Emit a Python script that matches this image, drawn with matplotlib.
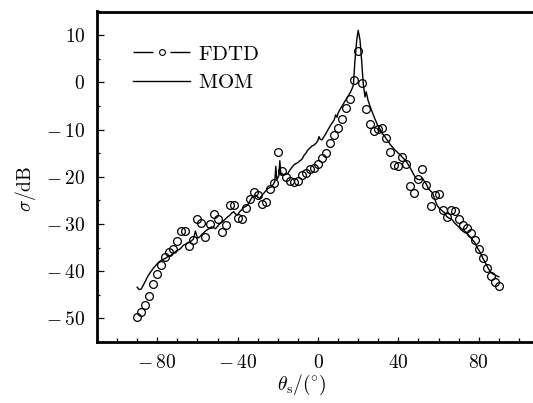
import matplotlib

matplotlib.use("Agg")

import matplotlib.pyplot as plt
from matplotlib.lines import Line2D
from matplotlib.ticker import FixedLocator, FuncFormatter, MultipleLocator

plt.rcParams["mathtext.fontset"] = "cm"
plt.rcParams["font.family"] = ["DejaVu Serif"]

# FDTD samples (theta_s in degrees, sigma in dB)
fdtd_theta = [
    -90, -88, -86, -84, -82, -80, -78, -76, -74, -72, -70, -68, -66, -64, -62, -60,
    -58, -56, -54, -52, -50, -48, -46, -44, -42, -40, -38, -36, -34, -32, -30, -28,
    -26, -24, -22, -20, -18, -16, -14, -12, -10, -8, -6, -4, -2, 0, 2, 4, 6, 8, 10,
    12, 14, 16, 18, 20, 22, 24, 26, 28, 30, 32, 34, 36, 38, 40, 42, 44, 46, 48, 50,
    52, 54, 56, 58, 60, 62, 64, 66, 68, 70, 72, 74, 76, 78, 80, 82, 84, 86, 88, 90,
]
fdtd_sigma = [
    -49.7, -48.7, -47.2, -45.2, -42.8, -40.6, -38.7, -36.9, -35.9, -35.4, -33.6,
    -31.5, -31.5, -34.6, -33.4, -29.0, -29.7, -32.8, -30.0, -27.9, -29.0, -31.8,
    -30.3, -26.0, -26.0, -28.8, -29.0, -26.6, -24.7, -23.3, -23.9, -25.8, -25.3,
    -22.5, -21.4, -14.8, -18.7, -20.0, -20.8, -21.2, -20.9, -19.7, -19.3, -18.4,
    -18.1, -17.2, -16.1, -15.0, -12.8, -11.2, -9.7, -7.7, -5.5, -3.6, 0.4, 6.7,
    -0.2, -5.7, -8.8, -10.3, -9.8, -9.7, -11.7, -14.8, -17.5, -17.8, -15.9, -17.2,
    -21.9, -23.5, -20.5, -18.4, -21.8, -26.2, -23.8, -23.7, -27.1, -28.5, -27.1,
    -27.3, -29.0, -30.2, -30.9, -31.9, -33.4, -35.3, -37.3, -39.3, -41.0, -42.2,
    -43.2,
]

# MOM curve
mom_theta = [
    -90, -89, -88, -87, -86, -85, -84, -83, -82, -81, -80, -79, -78, -77, -76, -75,
    -74, -73, -72, -71, -70, -69, -68, -67, -66, -65, -64, -63, -62, -61, -60, -59,
    -58, -57, -56, -55, -54, -53, -52, -51, -50, -49, -48, -47, -46, -45, -44, -43,
    -42, -41, -40, -39, -38, -37, -36, -35, -34, -33, -32, -31, -30, -29, -28, -27,
    -26, -25, -24, -23, -22, -21.5, -21, -20.5, -19.5, -19, -18.5, -18, -17, -16,
    -15, -14, -13, -12, -11, -10, -9, -8, -7, -6, -5, -4, -3, -2, -1, 0, 0.5, 1, 2,
    3, 4, 5, 6, 7, 8, 8.8, 9.5, 10, 11, 12, 13, 14, 15, 16, 17, 17.6, 18.4, 19.3,
    20, 20.9, 21.7, 22.5, 23.4, 24, 24.9, 26, 27, 28, 29, 30, 31, 32, 33, 34, 35,
    36, 37, 38, 39, 40, 41, 42, 43, 44, 45, 46, 47, 48, 49, 50, 51, 52, 53, 54, 55,
    56, 57, 58, 59, 60, 61, 62, 63, 64, 65, 66, 67, 68, 69, 70, 71, 72, 73, 74, 75,
    76, 77, 78, 79, 80, 81, 82, 83, 84, 85, 86, 87, 88, 89, 90,
]
mom_sigma = [
    -43.4, -43.9, -43.8, -43.0, -42.2, -41.3, -40.6, -40.0, -39.4, -38.9, -38.4,
    -38.0, -37.7, -37.5, -37.3, -37.0, -36.8, -36.6, -36.2, -35.9, -35.6, -35.4,
    -35.0, -34.5, -34.3, -34.0, -33.8, -33.6, -33.2, -31.5, -33.0, -32.8, -32.3,
    -31.9, -31.5, -31.2, -30.9, -30.6, -30.8, -31.0, -30.5, -30.0, -29.7, -29.3,
    -28.9, -28.5, -28.2, -27.7, -27.4, -27.9, -28.1, -27.4, -27.0, -26.5, -26.3,
    -26.0, -25.2, -24.5, -24.2, -23.9, -24.3, -24.6, -24.0, -23.5, -23.0, -22.5,
    -22.3, -22.1, -21.4, -21.0, -17.8, -20.6, -19.8, -16.6, -19.5, -19.3, -19.6,
    -19.5, -19.3, -18.6, -18.0, -17.5, -17.2, -17.0, -16.6, -16.3, -15.5, -15.0,
    -14.3, -13.9, -13.5, -13.3, -12.9, -12.3, -11.5, -12.0, -12.2, -11.5, -10.8,
    -10.0, -9.3, -8.6, -8.0, -6.9, -7.4, -6.5, -5.7, -5.0, -4.3, -3.6, -2.9, -2.2,
    -1.3, -0.6, 4.7, 9.0, 11.0, 9.0, 4.7, -0.2, -3.1, -2.0, -3.8, -5.2, -6.3, -7.4,
    -8.4, -9.4, -10.0, -10.9, -11.3, -12.0, -12.5, -13.2, -13.7, -14.2, -14.6,
    -15.0, -15.4, -15.9, -16.3, -16.8, -17.5, -18.2, -19.0, -19.8, -20.4, -20.6,
    -20.6, -20.3, -21.0, -21.6, -22.6, -23.0, -23.4, -24.6, -25.8, -26.5, -26.9,
    -27.3, -27.6, -28.4, -28.7, -28.9, -29.2, -29.8, -30.2, -30.6, -31.1, -31.5,
    -31.8, -32.0, -32.4, -32.9, -33.4, -33.9, -34.8, -35.5, -36.3, -37.2, -38.0,
    -38.8, -39.6, -40.2, -40.6, -40.8, -41.0, -41.2,
]

x_major = [-80, -40, 0, 40, 80]


def _tick_text(value, _pos=None):
    if value < 0:
        return r"$-\:%d$" % abs(value)
    return r"$%d$" % value


fig = plt.figure(figsize=(5.33, 4.03), dpi=100)
ax = fig.add_axes([97 / 533, 1 - 342 / 403, 442 / 533, 330.5 / 403])

ax.plot(mom_theta, mom_sigma, color="black", lw=1.0, zorder=2)
ax.plot(
    fdtd_theta,
    fdtd_sigma,
    linestyle="none",
    marker="o",
    ms=5.6,
    mfc="none",
    mec="black",
    mew=0.9,
    zorder=3,
)

ax.set_xlim(-110, 110)
ax.set_ylim(-55, 15)
ax.xaxis.set_major_locator(FixedLocator(x_major))
ax.xaxis.set_minor_locator(MultipleLocator(10))
ax.yaxis.set_major_locator(MultipleLocator(10))
ax.yaxis.set_minor_locator(MultipleLocator(5))
ax.xaxis.set_major_formatter(FuncFormatter(_tick_text))
ax.yaxis.set_major_formatter(FuncFormatter(_tick_text))
ax.tick_params(axis="both", which="both", direction="in", top=False, right=False,
               labelsize=14, width=0.9)
ax.tick_params(axis="x", which="major", length=3.5, pad=8.5)
ax.tick_params(axis="x", which="minor", length=3.0)
ax.tick_params(axis="y", which="major", length=5.0, pad=8.5)
ax.tick_params(axis="y", which="minor", length=2.5)
for spine in ax.spines.values():
    spine.set_linewidth(2.0)

ax.set_xlabel(r"$\theta_{\mathrm{s}}/(^{\circ})$", fontsize=14)
ax.set_ylabel(r"$\sigma/\mathrm{dB}$", fontsize=14)
ax.xaxis.set_label_coords((302 - 97) / 442, -(385 - 342) / 330.5)
ax.yaxis.set_label_coords(-(97 - 25) / 442, 1 - (189 - 11.5) / 330.5)
ax.xaxis.label.set_va("center")
ax.yaxis.label.set_va("center")

handles = [
    Line2D([], [], color="black", lw=1.0, linestyle=(0, (14.4, 12.2)),
           marker="o", ms=4.2, mfc="white", mec="black", mew=0.8),
    Line2D([], [], color="black", lw=1.0),
]
ax.legend(
    handles,
    [r"$\mathrm{FDTD}$", r"$\mathrm{MOM}$"],
    loc="upper left",
    bbox_to_anchor=((133 - 97) / 442, 0.90),
    frameon=False,
    fontsize=15,
    handlelength=2.74,
    handletextpad=0.4,
    labelspacing=0.47,
    borderpad=0,
    borderaxespad=0,
    numpoints=1,
)

fig.savefig("out.png", dpi=100)
